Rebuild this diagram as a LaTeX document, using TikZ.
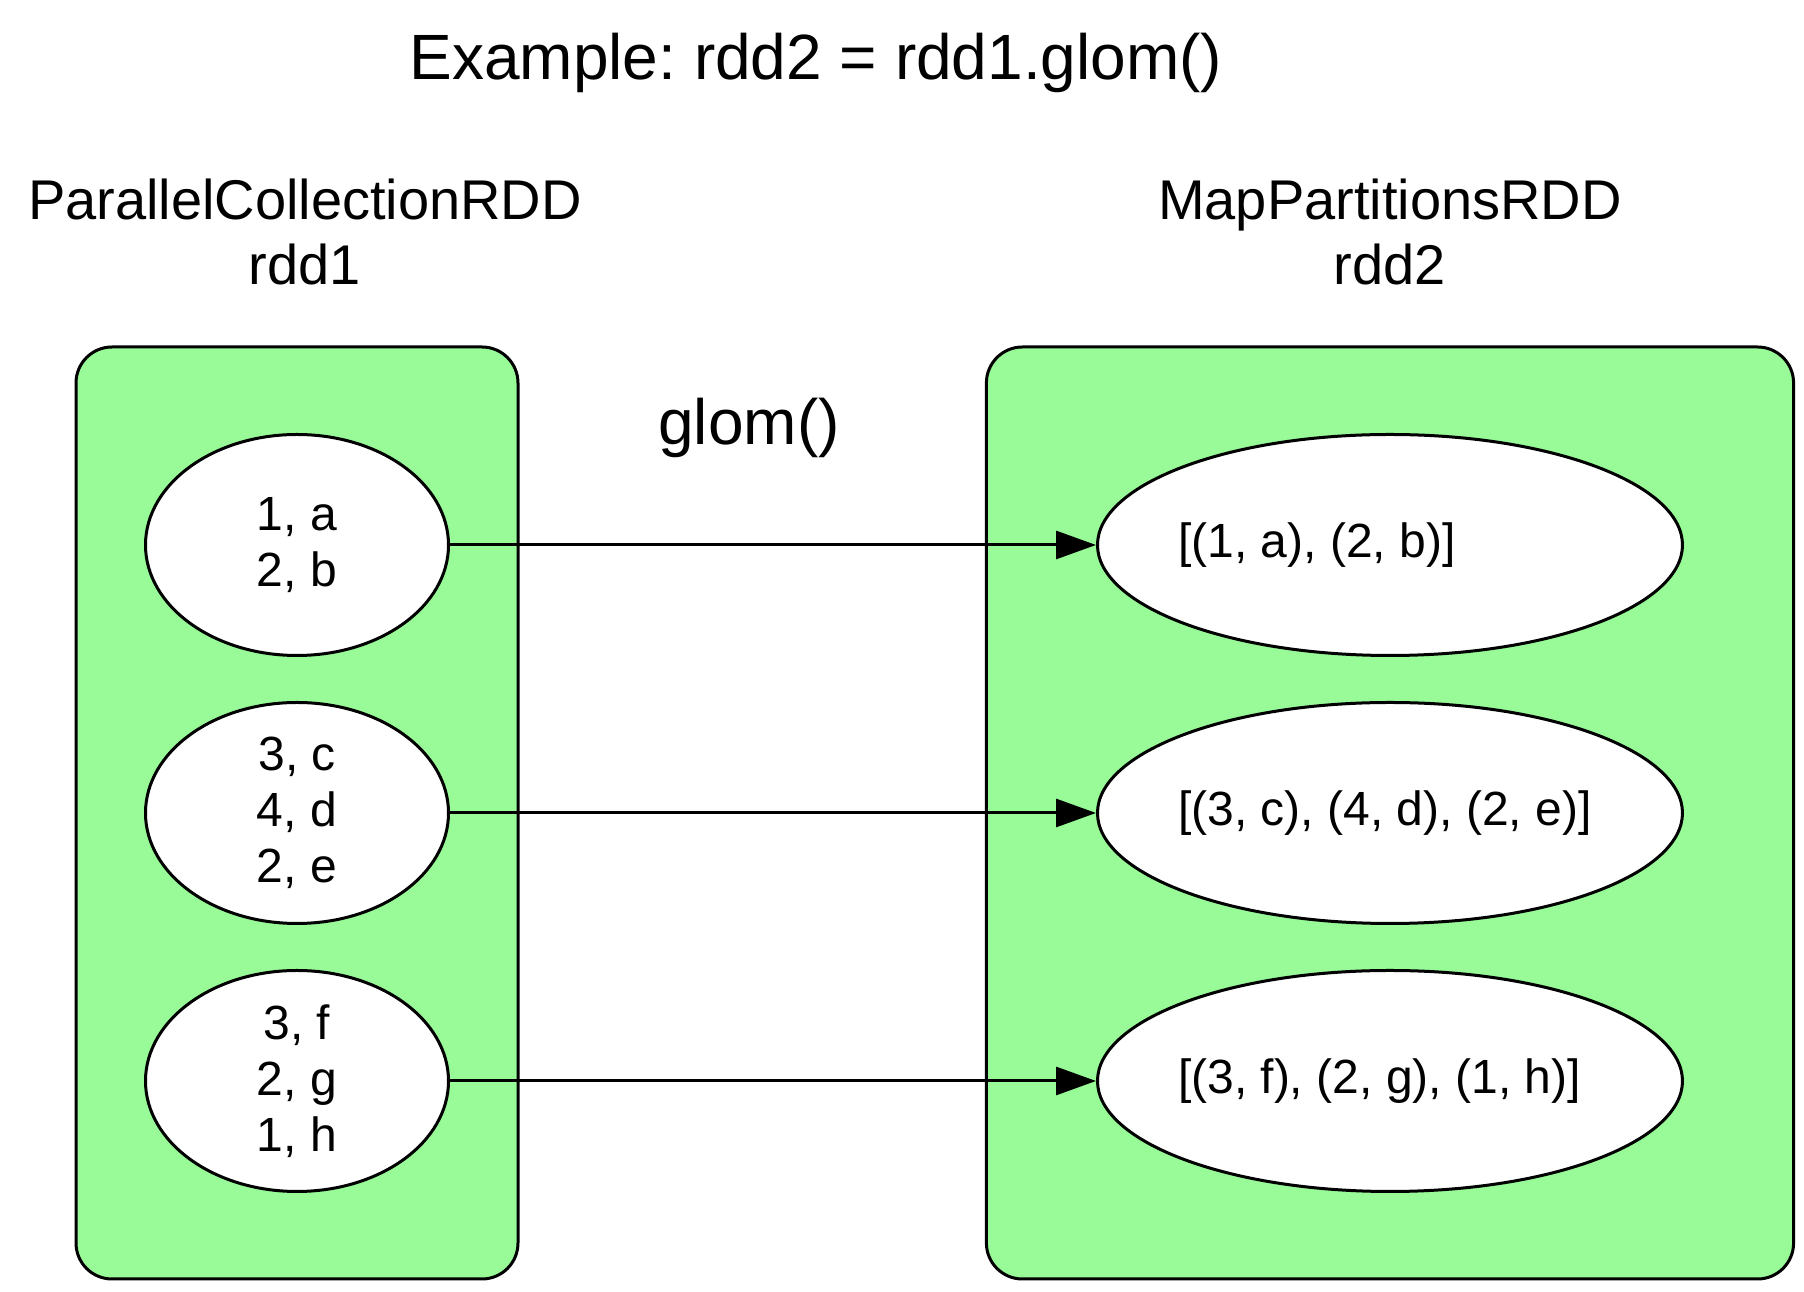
\documentclass[tikz,border=0pt]{standalone}
\usepackage{fontspec}
\setmainfont{Liberation Sans}
\usepackage{xcolor}
\usetikzlibrary{positioning, arrows.meta, fit, backgrounds, shapes.geometric}
\frenchspacing
\definecolor{rddgreen}{RGB}{152,251,152}
\newcommand{\rtext}[1]{\makebox[106pt][l]{#1}}
\tikzset{
  pnode/.style={draw, ellipse, fill=white, line width=0.75pt, inner sep=0pt, minimum height=55.25pt, font=\fontsize{12}{14}\selectfont},
  lpart/.style={pnode, minimum width=75.75pt, align=center},
  rpart/.style={pnode, minimum width=146.25pt, inner xsep=-1.5pt},
  rdd/.style={draw, rounded corners=9pt, fill=rddgreen, line width=0.75pt},
  rddname/.style={font=\fontsize{14}{16.25}\selectfont, align=center, inner sep=0pt},
  bigtext/.style={font=\fontsize{16}{19}\selectfont, inner sep=0pt},
  arr/.style={-{Triangle[length=10pt, width=7pt]}, line width=0.75pt},
}

\begin{document}
\begin{tikzpicture}[x=0.25pt, y=-0.25pt, node distance=11pt]
\useasboundingbox (0,0) rectangle (1804,1292);
\node[bigtext, anchor=base] (title) at (816,80) {Example: rdd2 = rdd1.glom()};
% partitions of rdd1
\node[lpart] (p1) at (297,545) {1, a\\2, b};
\node[lpart, below=of p1] (p2) {3, c\\4, d\\2, e};
\node[lpart, below=of p2] (p3) {3, f\\2, g\\1, h};
% partitions of rdd2
\node[rpart, right=161.5pt of p1] (q1) {\rtext{[(1, a), (2, b)]}};
\node[rpart, right=161.5pt of p2] (q2) {\rtext{[(3, c), (4, d), (2, e)]}};
\node[rpart, right=161.5pt of p3] (q3) {\rtext{[(3, f), (2, g), (1, h)]}};
\begin{scope}[on background layer]
\node[rdd, fit=(p1)(p3), inner xsep=17pt, inner ysep=21.5pt] (lbox) {};
\node[rdd, fit=(q1)(q3), inner xsep=27.4pt, inner ysep=21.5pt] (rbox) {};
\end{scope}
\node[rddname, above=15pt of lbox.north, xshift=2pt] (lname) {ParallelCollectionRDD\\rdd1};
\node[rddname, above=15pt of rbox.north] (rname) {MapPartitionsRDD\\rdd2};
\node[bigtext] (op) at (749,428) {glom()};
\foreach \from/\to in {p1/q1, p2/q2, p3/q3}
  \draw[arr] (\from) -- (\to);
\end{tikzpicture}
\end{document}
